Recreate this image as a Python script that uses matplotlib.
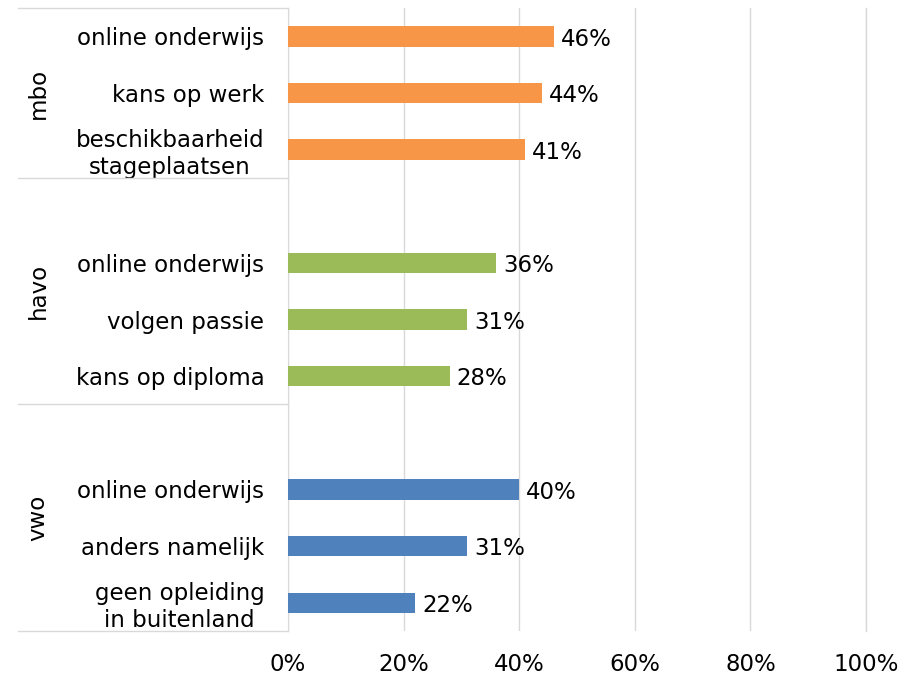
import matplotlib.pyplot as plt
import matplotlib.transforms as mtransforms

plt.rcParams['font.family'] = 'DejaVu Sans'

# data
groups = ['mbo', 'havo', 'vwo']
mbo_labels = ['online onderwijs', 'kans op werk', 'beschikbaarheid\nstageplaatsen']
mbo_values = [46, 44, 41]
havo_labels = ['online onderwijs', 'volgen passie', 'kans op diploma']
havo_values = [36, 31, 28]
vwo_labels = ['online onderwijs', 'anders namelijk', 'geen opleiding\nin buitenland']
vwo_values = [40, 31, 22]
colors = ['#F79646', '#9BBB59', '#4F81BD']

fig = plt.figure(figsize=(9.16, 6.77), dpi=100)
ax = fig.add_axes([0.3144, 0.0679, 0.631, 0.9203])

grid_c = '#d9d9d9'
fs = 16.5

# build rows: top to bottom, with an empty slot before havo and vwo
rows = []
pos = 0
for gi, (labs, vals) in enumerate([(mbo_labels, mbo_values),
                                   (havo_labels, havo_values),
                                   (vwo_labels, vwo_values)]):
    if gi > 0:
        pos += 1
    for lab, v in zip(labs, vals):
        rows.append((pos, lab, v, colors[gi]))
        pos += 1

n = pos
ys = [r[0] for r in rows]
ax.barh(ys, [r[2] for r in rows], height=0.36, color=[r[3] for r in rows], zorder=3)
for y, lab, v, c in rows:
    ax.text(v + 1.2, y + 0.05, f'{v}%', va='center', ha='left', fontsize=fs, zorder=4)

ax.set_ylim(n - 0.5, -0.5)
ax.set_xlim(0, 100)
ax.set_yticks(ys)
ax.set_yticklabels([r[1] for r in rows], fontsize=fs, multialignment='center')
ax.tick_params(axis='y', length=0, pad=17)
ax.set_xticks(range(0, 101, 20))
ax.set_xticklabels([f'{t}%' for t in range(0, 101, 20)], fontsize=fs)
ax.tick_params(axis='x', length=0, pad=16)
ax.grid(axis='x', color=grid_c, linewidth=1, zorder=0)
ax.axvline(100, color=grid_c, lw=1, zorder=0, clip_on=False)
for s in ['top', 'right', 'bottom']:
    ax.spines[s].set_visible(False)
ax.spines['left'].set_color(grid_c)

# group separators and labels
trans = mtransforms.blended_transform_factory(ax.transAxes, ax.transData)
xl = -(288 - 18) / 578
edges = [-0.5, 2.5, 6.5, 10.5]
for e in edges:
    ax.plot([xl, 0], [e, e], color=grid_c, lw=1, transform=trans, clip_on=False)
for g, a, b in zip(groups, edges[:-1], edges[1:]):
    ax.text(-(288 - 38) / 578, (a + b) / 2, g, rotation=90, va='center', ha='center',
            fontsize=fs, transform=trans)

fig.savefig('out.png', dpi=100)
